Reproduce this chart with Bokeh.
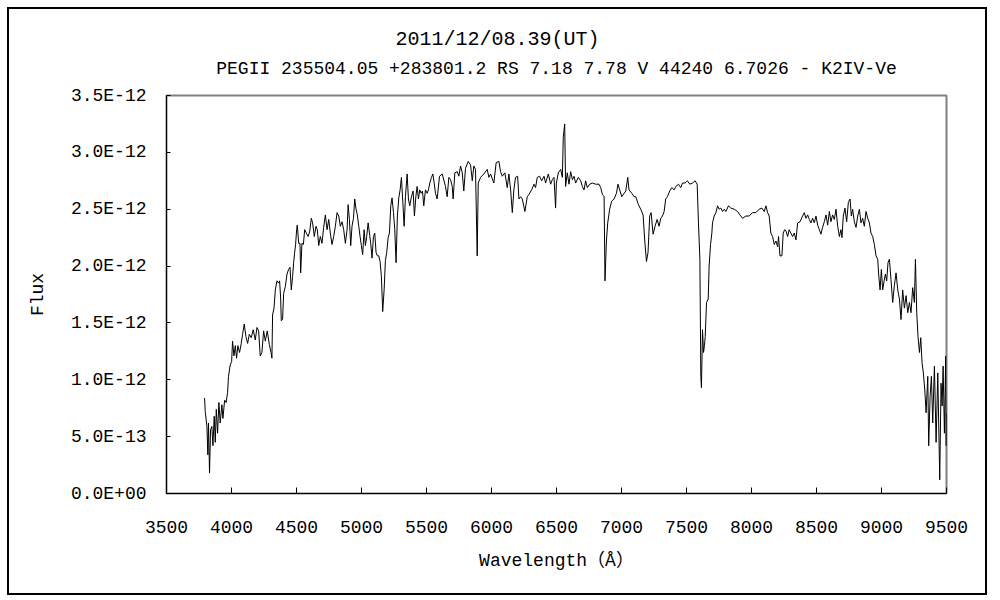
from bokeh.plotting import figure
from bokeh.models import Range1d, FixedTicker, CustomJSTickFormatter, Title
from bokeh.embed import file_html
from bokeh.resources import INLINE

# ---- data ----
title_text = "2011/12/08.39(UT)"
subtitle_text = "PEGII 235504.05 +283801.2 RS 7.18 7.78 V 44240 6.7026 - K2IV-Ve"
x_label = "Wavelength（Å）"
y_label = "Flux"
x_ticks = [3500, 4000, 4500, 5000, 5500, 6000, 6500, 7000, 7500, 8000, 8500, 9000, 9500]
y_ticks_e12 = [0.0, 0.5, 1.0, 1.5, 2.0, 2.5, 3.0, 3.5]

wl_blue = [3793, 3798, 3811, 3818, 3823, 3831, 3839, 3849, 3857, 3867, 3875, 3883, 3893, 3903, 3913, 3926,
           3934, 3947, 3959, 3970, 3977, 3990, 4001, 4008, 4019, 4029, 4039, 4049, 4062, 4075, 4085, 4098,
           4111, 4124, 4137, 4152, 4167, 4183, 4196, 4209, 4221, 4234, 4247, 4260, 4275, 4291, 4304, 4311,
           4316, 4327, 4337, 4350, 4363, 4370, 4378, 4383, 4393, 4401, 4414, 4427, 4439, 4450, 4460, 4470,
           4478, 4486, 4493, 4501, 4506, 4517, 4527, 4532, 4542, 4553, 4563, 4576, 4589, 4601, 4614, 4624,
           4637, 4650, 4660, 4671, 4683, 4696, 4709, 4722, 4735, 4748, 4760, 4773, 4786, 4799, 4812, 4825,
           4837, 4850, 4863, 4876, 4889, 4897, 4907, 4917, 4927, 4938, 4948, 4958, 4968, 4979, 4989, 4999,
           5009, 5020, 5030, 5040, 5051, 5061, 5071, 5081, 5092, 5102, 5112, 5122, 5133, 5143, 5153, 5163,
           5174, 5184, 5194, 5205, 5215, 5225, 5235, 5246, 5256, 5266, 5276, 5287, 5297, 5307, 5318, 5328,
           5338, 5351, 5361, 5371, 5384, 5397, 5407, 5418, 5428, 5438, 5448, 5459, 5469, 5479, 5492, 5505,
           5515, 5525, 5538, 5549, 5559, 5569, 5582]
flux_blue = [0.84, 0.72, 0.59, 0.34, 0.62, 0.18, 0.56, 0.59, 0.42, 0.68, 0.45, 0.74, 0.53, 0.80, 0.62, 0.78,
             0.66, 0.82, 0.80, 0.89, 1.03, 1.13, 1.16, 1.34, 1.21, 1.30, 1.19, 1.30, 1.24, 1.32, 1.40, 1.49,
             1.38, 1.32, 1.40, 1.37, 1.44, 1.35, 1.46, 1.43, 1.21, 1.24, 1.43, 1.34, 1.43, 1.31, 1.24, 1.19,
             1.57, 1.63, 1.79, 1.87, 1.85, 1.87, 1.72, 1.52, 1.53, 1.76, 1.82, 1.93, 1.97, 1.99, 1.79, 1.91,
             2.03, 2.12, 2.19, 2.32, 2.36, 2.20, 2.20, 1.94, 2.20, 2.19, 2.32, 2.29, 2.26, 2.30, 2.42, 2.38,
             2.26, 2.35, 2.32, 2.18, 2.26, 2.20, 2.34, 2.45, 2.32, 2.41, 2.29, 2.19, 2.26, 2.35, 2.47, 2.44,
             2.35, 2.39, 2.32, 2.20, 2.32, 2.54, 2.41, 2.18, 2.35, 2.42, 2.59, 2.50, 2.45, 2.35, 2.26, 2.18,
             2.10, 2.32, 2.18, 2.26, 2.38, 2.29, 2.20, 2.07, 2.26, 2.29, 2.12, 2.09, 2.09, 2.04, 1.91, 1.60,
             1.79, 2.05, 2.12, 2.25, 2.29, 2.53, 2.60, 2.47, 2.32, 2.03, 2.44, 2.60, 2.67, 2.78, 2.56, 2.35,
             2.61, 2.81, 2.59, 2.53, 2.61, 2.66, 2.44, 2.61, 2.70, 2.59, 2.67, 2.64, 2.66, 2.53, 2.67, 2.64,
             2.67, 2.73, 2.78, 2.81, 2.73, 2.64, 2.59]

wl_mid = [5600, 5621, 5646, 5659, 5672, 5685, 5698, 5705, 5718, 5736, 5749, 5762, 5775, 5787, 5800, 5821,
          5839, 5852, 5864, 5877, 5890, 5898, 5916, 5941, 5967, 5980, 5993, 6018, 6036, 6057, 6070, 6083,
          6103, 6121, 6134, 6147, 6160, 6172, 6185, 6201, 6211, 6224, 6237, 6257, 6275, 6288, 6309, 6327,
          6339, 6352, 6370, 6386, 6404, 6416, 6437, 6455, 6468, 6481, 6493, 6499, 6514, 6532, 6545, 6552,
          6563, 6570, 6583, 6596, 6609, 6622, 6635, 6647, 6668, 6686, 6699, 6712, 6724, 6737, 6755, 6776,
          6801, 6827, 6840, 6853, 6866, 6873, 6884, 6894, 6909, 6924, 6943, 6961, 6973, 6986, 7002, 7020,
          7033, 7048, 7058, 7079, 7097, 7110, 7130, 7148, 7166, 7179, 7192, 7204, 7217, 7228, 7243, 7258,
          7274, 7289, 7302, 7315, 7328, 7340, 7353, 7371, 7387, 7405, 7418, 7438, 7456, 7469, 7489, 7507,
          7525, 7546, 7566, 7582]
flux_mid = [2.79, 2.81, 2.70, 2.61, 2.78, 2.76, 2.70, 2.59, 2.82, 2.83, 2.79, 2.88, 2.82, 2.66, 2.86, 2.92,
            2.89, 2.75, 2.88, 2.85, 2.09, 2.73, 2.78, 2.81, 2.85, 2.78, 2.81, 2.73, 2.91, 2.92, 2.83, 2.79,
            2.82, 2.69, 2.81, 2.67, 2.47, 2.67, 2.78, 2.79, 2.59, 2.61, 2.59, 2.48, 2.61, 2.63, 2.67, 2.72,
            2.69, 2.78, 2.79, 2.75, 2.79, 2.73, 2.81, 2.72, 2.76, 2.78, 2.51, 2.73, 2.82, 2.85, 2.78, 3.13,
            3.25, 2.70, 2.82, 2.72, 2.83, 2.76, 2.79, 2.73, 2.78, 2.75, 2.70, 2.67, 2.75, 2.69, 2.72, 2.73,
            2.72, 2.72, 2.69, 2.63, 2.61, 1.87, 2.22, 2.38, 2.50, 2.57, 2.59, 2.64, 2.72, 2.67, 2.61, 2.64,
            2.66, 2.78, 2.67, 2.64, 2.61, 2.61, 2.54, 2.50, 2.45, 2.22, 2.04, 2.12, 2.44, 2.47, 2.28, 2.35,
            2.41, 2.35, 2.42, 2.44, 2.48, 2.59, 2.61, 2.66, 2.69, 2.67, 2.70, 2.72, 2.69, 2.73, 2.73, 2.75,
            2.72, 2.73, 2.75, 2.72]

wl_red = [7592, 7603, 7608, 7610, 7615, 7623, 7631, 7638, 7644, 7654, 7667, 7674, 7685, 7695, 7700, 7713,
          7726, 7739, 7751, 7764, 7777, 7790, 7803, 7823, 7841, 7867, 7893, 7911, 7931, 7957, 7982, 8008,
          8034, 8059, 8080, 8098, 8111, 8124, 8136, 8149, 8162, 8175, 8188, 8201, 8208, 8219, 8234, 8244,
          8255, 8265, 8278, 8290, 8303, 8316, 8329, 8342, 8355, 8373, 8393, 8406, 8419, 8432, 8445, 8457,
          8470, 8483, 8496, 8509, 8522, 8534, 8547, 8560, 8573, 8586, 8599, 8611, 8624, 8637, 8650, 8663,
          8676, 8688, 8696, 8706, 8719, 8732, 8745, 8758, 8768, 8778, 8791, 8804, 8817, 8830, 8842, 8855,
          8868, 8881, 8894, 8907, 8919, 8932, 8945, 8958, 8971, 8978, 8989, 8999, 9009, 9020, 9030, 9040,
          9050, 9061, 9073, 9086, 9099, 9112, 9125, 9138, 9150, 9163, 9176, 9189, 9202, 9215, 9227, 9240,
          9253, 9261, 9271, 9281, 9292, 9302, 9312, 9322, 9333, 9343, 9356, 9363, 9374, 9384, 9394, 9407,
          9420, 9433, 9440, 9448, 9458, 9466, 9474, 9484, 9494, 9498, 9500]
flux_red = [2.38, 2.06, 1.35, 1.03, 0.93, 1.44, 1.24, 1.30, 1.38, 1.68, 1.71, 2.00, 2.19, 2.29, 2.38, 2.44,
            2.47, 2.53, 2.50, 2.51, 2.48, 2.50, 2.48, 2.53, 2.51, 2.50, 2.48, 2.45, 2.42, 2.44, 2.44, 2.47,
            2.47, 2.50, 2.51, 2.48, 2.53, 2.47, 2.44, 2.29, 2.26, 2.19, 2.22, 2.17, 2.26, 2.09, 2.09, 2.29,
            2.32, 2.31, 2.26, 2.32, 2.29, 2.26, 2.29, 2.23, 2.38, 2.39, 2.44, 2.47, 2.42, 2.45, 2.41, 2.38,
            2.42, 2.38, 2.44, 2.36, 2.32, 2.28, 2.34, 2.39, 2.45, 2.36, 2.48, 2.39, 2.45, 2.41, 2.50, 2.35,
            2.26, 2.32, 2.25, 2.44, 2.51, 2.39, 2.56, 2.59, 2.44, 2.50, 2.39, 2.34, 2.44, 2.50, 2.38, 2.42,
            2.35, 2.48, 2.42, 2.38, 2.29, 2.26, 2.19, 2.09, 2.06, 1.93, 1.79, 1.97, 1.79, 1.87, 1.93, 1.87,
            2.03, 2.06, 1.88, 1.68, 1.83, 1.94, 1.79, 1.71, 1.53, 1.79, 1.63, 1.74, 1.59, 1.68, 1.59, 1.81,
            1.68, 2.06, 1.59, 1.38, 1.24, 1.37, 1.15, 1.06, 0.91, 0.71, 1.03, 0.42, 0.86, 1.03, 0.62, 1.12,
            0.45, 1.06, 0.62, 0.12, 0.97, 0.77, 1.12, 0.53, 1.21, 0.42, 0.71]

wavelength = wl_blue + wl_mid + wl_red
flux = [v * 1e-12 for v in flux_blue + flux_mid + flux_red]

FONT = "'Liberation Mono', 'Noto Sans CJK JP', monospace"

p = figure(width=980, height=588, output_backend="svg", toolbar_location=None, title=None,
           x_range=Range1d(3500, 9500), y_range=Range1d(0, 3.5e-12),
           min_border_left=157, min_border_right=43, min_border_top=86, min_border_bottom=104,
           styles={"border": "2px solid black", "margin-left": "7px", "margin-top": "7px"})
p.background_fill_color = "white"
p.border_fill_color = "white"
p.outline_line_color = "#808080"
p.outline_line_width = 2
p.xgrid.visible = False
p.ygrid.visible = False

p.line(wavelength, flux, line_color="black", line_width=1)

# axes
p.xaxis.ticker = FixedTicker(ticks=x_ticks)
p.yaxis.ticker = FixedTicker(ticks=[t * 1e-12 for t in y_ticks_e12])
p.yaxis.formatter = CustomJSTickFormatter(code="""
    if (Math.abs(tick) < 1e-20) return "0.0E+00";
    var e = Math.floor(Math.log10(Math.abs(tick)) + 1e-9);
    var m = tick / Math.pow(10, e);
    var es = (e < 0 ? "-" : "+") + (Math.abs(e) < 10 ? "0" : "") + Math.abs(e);
    return m.toFixed(1) + "E" + es;
""")
for ax in (p.xaxis, p.yaxis):
    ax.axis_line_color = "black"
    ax.axis_line_width = 1
    ax.major_tick_line_color = "black"
    ax.major_tick_out = 0
    ax.major_tick_in = 6
    ax.minor_tick_line_color = None
    ax.major_label_text_font = FONT
    ax.major_label_text_font_size = "18px"
    ax.major_label_text_color = "black"
    ax.axis_label_text_font = FONT
    ax.axis_label_text_font_size = "18px"
    ax.axis_label_text_font_style = "normal"
    ax.axis_label_text_color = "black"

p.xaxis.axis_label = x_label
p.yaxis.axis_label = y_label
p.xaxis.major_label_standoff = 27
p.xaxis.axis_label_standoff = 15
p.yaxis.major_label_standoff = 20
p.yaxis.axis_label_standoff = 20
p.yaxis.major_tick_in = 4

# titles (a blank spacer title sits between the subtitle and the frame)
p.add_layout(Title(text=" ", text_font=FONT, text_font_size="1px", standoff=10), "above")
p.add_layout(Title(text=subtitle_text, align="center", text_font=FONT, text_font_size="18px",
                   text_font_style="normal", text_color="black", standoff=8), "above")
p.add_layout(Title(text=title_text, align="left", offset=229, text_font=FONT, text_font_size="20px",
                   text_font_style="normal", text_color="black", standoff=3), "above")

open("out.html", "w").write(file_html(p, INLINE))
